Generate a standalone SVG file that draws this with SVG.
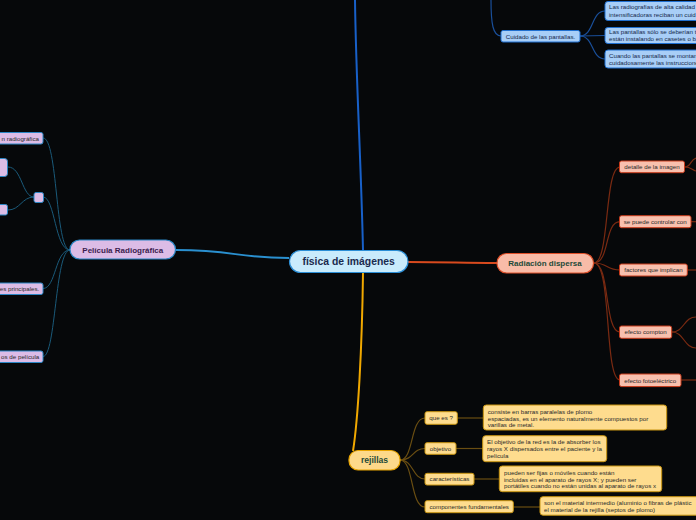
<svg xmlns="http://www.w3.org/2000/svg" width="696" height="520" viewBox="0 0 696 520">
<style>
text{font-family:"Liberation Sans",Arial,sans-serif;}
.s{font-size:6.2px;fill:#2a2a2a;}
.sb{font-size:6.2px;fill:#14284a;}
.c{fill:none;}
.pc{stroke:#1a5a7a;stroke-width:1;fill:none;}
.rc{stroke:#7a2a12;stroke-width:1.2;fill:none;}
.bc{stroke:#1a4f9a;stroke-width:1.2;fill:none;}
.yc{stroke:#6a4e12;stroke-width:1.2;fill:none;}
.pn{fill:#dcbce6;stroke:#2a86c4;stroke-width:1;}
.rn{fill:#f8c0ae;stroke:#c83a1a;stroke-width:1;}
.bn{fill:#a8cef7;stroke:#1f6fd0;stroke-width:1;}
.yn{fill:#fedc8e;stroke:#c89410;stroke-width:1;}
</style>
<rect x="0" y="0" width="696" height="520" fill="#06080a"/>
<g id="connectors">
<path d="M363,250 C361,160 356,80 355,0" stroke="#1860c8" stroke-width="2" fill="none"/>
<path d="M363,273 C362,350 358,420 353,451" stroke="#f0a800" stroke-width="2" fill="none"/>
<path d="M408,262 C450,262 460,263 497,263" stroke="#d84a1e" stroke-width="2" fill="none"/>
<path d="M176,250 C235,250 235,258 289,258" stroke="#2a90d0" stroke-width="2" fill="none"/>
<path class="pc" d="M70,250 C55,250 58,138 43,138"/>
<path class="pc" d="M70,250 C55,250 55,197 43,197"/>
<path class="pc" d="M34,197 C22,197 22,167 8,167"/>
<path class="pc" d="M34,197 C22,197 20,210 8,210"/>
<path class="pc" d="M70,250 C55,250 56,288.5 43,288.5"/>
<path class="pc" d="M70,250 C55,250 56,356.5 43,356.5"/>
<path class="rc" d="M594,263 C610,263 604,167 620,167"/>
<path class="rc" d="M594,263 C610,263 604,221.7 620,221.7"/>
<path class="rc" d="M594,263 C608,263 606,270 620,270"/>
<path class="rc" d="M594,263 C610,263 604,332 620,332"/>
<path class="rc" d="M594,263 C612,263 604,380 620,380"/>
<path class="rc" d="M685,167 C691,167 690,160 696,158"/>
<path class="rc" d="M685,167 C691,167 692,170 696,171"/>
<path class="rc" d="M691,221.7 L696,221.7"/>
<path class="rc" d="M687,270 L696,270"/>
<path class="rc" d="M672,332 C684,332 684,317 696,317"/>
<path class="rc" d="M672,332 C684,332 684,348 696,348"/>
<path class="rc" d="M681,380 L696,380"/>
<path class="bc" d="M491,0 C491,24 493,36 501,36"/>
<path class="bc" d="M580,36 C594,36 591,11 605,11"/>
<path class="bc" d="M580,36 L605,35.5"/>
<path class="bc" d="M580,36 C594,36 591,59 605,59"/>
<path class="yc" d="M400,460 C414,460 410,418 425,418"/>
<path class="yc" d="M400,460 C414,460 412,448.5 425,448.5"/>
<path class="yc" d="M400,460 C414,460 412,479 425,479"/>
<path class="yc" d="M400,460 C414,460 410,507 425,507"/>
<path class="yc" d="M457,418 L483,418"/>
<path class="yc" d="M456,448.5 L483,448.5"/>
<path class="yc" d="M474,479 L499,479"/>
<path class="yc" d="M513,507 L540,507"/>
</g>
<g id="center">
<rect x="289.5" y="250.5" width="118.5" height="22" rx="11" fill="#c9ebfc" stroke="#2b8ed6" stroke-width="1.2"/>
<text x="348.7" y="265" text-anchor="middle" font-size="10.4" font-weight="bold" fill="#1b2a4e">física de imágenes</text>
</g>
<g id="radiacion">
<rect x="497" y="253.5" width="96.5" height="19.5" rx="9.5" fill="#f8bca8" stroke="#e0502a" stroke-width="1.2"/>
<text x="545" y="266.3" text-anchor="middle" font-size="8" font-weight="bold" fill="#1d4a38">Radiación dispersa</text>
</g>
<g id="pelicula">
<rect x="70" y="240" width="105.5" height="19" rx="9.5" fill="#dcbce6" stroke="#2a86c4" stroke-width="1.2"/>
<text x="122.8" y="252.5" text-anchor="middle" font-size="8" font-weight="bold" fill="#3b1d4f">Película Radiográfica</text>
</g>
<g id="rejillas">
<rect x="349" y="450.5" width="51" height="19.5" rx="9" fill="#fdd98a" stroke="#e8a400" stroke-width="1.2"/>
<text x="374.5" y="463.3" text-anchor="middle" font-size="8.6" font-weight="bold" fill="#1d4a38">rejillas</text>
</g>
<g id="p-radiografica">
<rect class="pn" x="-40" y="132.5" width="83" height="11.5" rx="2"/>
<text class="s" x="39" y="140.5" text-anchor="end">n  radiográfica</text>
</g>
<g id="p-blank">
<rect class="pn" x="34" y="192.5" width="9.5" height="10" rx="2"/>
</g>
<g id="p-blank-top">
<rect class="pn" x="-10" y="158.5" width="17.5" height="18" rx="3"/>
</g>
<g id="p-blank-bottom">
<rect class="pn" x="-10" y="204.5" width="17.5" height="10.5" rx="2"/>
</g>
<g id="p-principales">
<rect class="pn" x="-40" y="283" width="83" height="11.5" rx="2"/>
<text class="s" x="39.3" y="291" text-anchor="end">es principales.</text>
</g>
<g id="p-tipos">
<rect class="pn" x="-40" y="351" width="83" height="11.5" rx="2"/>
<text class="s" x="39.3" y="359" text-anchor="end">os de película</text>
</g>
<g id="cuidado">
<rect class="bn" x="501" y="30.5" width="79" height="11.5" rx="2"/>
<text class="sb" x="540.5" y="38.5" text-anchor="middle">Cuidado de las pantallas.</text>
</g>
<g id="c-calidad">
<rect class="bn" x="605" y="1.5" width="100" height="19" rx="3"/>
<text class="sb" x="609" y="9">Las radiografías de alta calidad</text>
<text class="sb" x="609" y="16.5">intensificadoras reciban un cuid</text>
</g>
<g id="c-solo">
<rect class="bn" x="605" y="27.5" width="100" height="16" rx="3"/>
<text class="sb" x="609" y="34.3">Las pantallas sólo se deberían t</text>
<text class="sb" x="609" y="41">están instalando en casetes o b</text>
</g>
<g id="c-montan">
<rect class="bn" x="605" y="50" width="100" height="18" rx="3"/>
<text class="sb" x="609" y="57.5">Cuando las pantallas se montan</text>
<text class="sb" x="609" y="64.5">cuidadosamente las instruccione</text>
</g>
<g id="r-detalle">
<rect class="rn" x="619.5" y="161" width="65" height="11.7" rx="2"/>
<text class="s" x="652" y="169.2" text-anchor="middle">detalle de la imagen</text>
</g>
<g id="r-controlar">
<rect class="rn" x="619.5" y="215.7" width="71.5" height="12" rx="2"/>
<text class="s" x="655.2" y="224" text-anchor="middle">se puede controlar con</text>
</g>
<g id="r-factores">
<rect class="rn" x="619.5" y="264" width="67.8" height="12" rx="2"/>
<text class="s" x="653.4" y="272.3" text-anchor="middle">factores que implican</text>
</g>
<g id="r-compton">
<rect class="rn" x="619.5" y="326" width="52.2" height="12.3" rx="2"/>
<text class="s" x="645.6" y="334.4" text-anchor="middle">efecto compton</text>
</g>
<g id="r-fotoelectrico">
<rect class="rn" x="619.5" y="374" width="61.5" height="12.6" rx="2"/>
<text class="s" x="650.2" y="382.5" text-anchor="middle">efecto fotoeléctrico</text>
</g>
<g id="y-quees">
<rect class="yn" x="425" y="411.7" width="32.3" height="12.6" rx="2"/>
<text class="s" x="441.2" y="420.2" text-anchor="middle">que es ?</text>
</g>
<g id="y-quees-txt">
<rect class="yn" x="483.3" y="405" width="183.4" height="25" rx="3"/>
<text class="s" x="487.7" y="413.8">consiste en barras paralelas de plomo</text>
<text class="s" x="487.7" y="420.5">espaciadas, es un elemento naturalmente compuestos por</text>
<text class="s" x="487.7" y="427.2">varillas de metal.</text>
</g>
<g id="y-objetivo">
<rect class="yn" x="425" y="442.7" width="31" height="11.6" rx="2"/>
<text class="s" x="440.5" y="450.8" text-anchor="middle">objetivo</text>
</g>
<g id="y-objetivo-txt">
<rect class="yn" x="482.7" y="435.7" width="124" height="26" rx="3"/>
<text class="s" x="487" y="443.8">El objetivo de la red es la de absorber los</text>
<text class="s" x="487" y="450.5">rayos X dispersados entre el paciente y la</text>
<text class="s" x="487" y="457.5">película</text>
</g>
<g id="y-caracteristicas">
<rect class="yn" x="425" y="473.3" width="49" height="11.7" rx="2"/>
<text class="s" x="449.5" y="481.4" text-anchor="middle">características</text>
</g>
<g id="y-caracteristicas-txt">
<rect class="yn" x="499.3" y="466" width="162.4" height="25.7" rx="3"/>
<text class="s" x="504" y="475.4">pueden ser fijas o móviles cuando están</text>
<text class="s" x="504" y="481.6">incluidas en el aparato de rayos X;  y pueden ser</text>
<text class="s" x="504" y="487.9">portátiles cuando no están unidas al aparato de rayos x</text>
</g>
<g id="y-componentes">
<rect class="yn" x="425" y="500.7" width="88.3" height="12" rx="2"/>
<text class="s" x="469.2" y="509" text-anchor="middle">componentes fundamentales</text>
</g>
<g id="y-componentes-txt">
<rect class="yn" x="540" y="496.7" width="170" height="18.5" rx="3"/>
<text class="s" x="544" y="504.6">son el material intermedio  (aluminio o fibras de plástic</text>
<text class="s" x="544" y="511.8">el material de la rejilla (septos de plomo)</text>
</g>
</svg>
